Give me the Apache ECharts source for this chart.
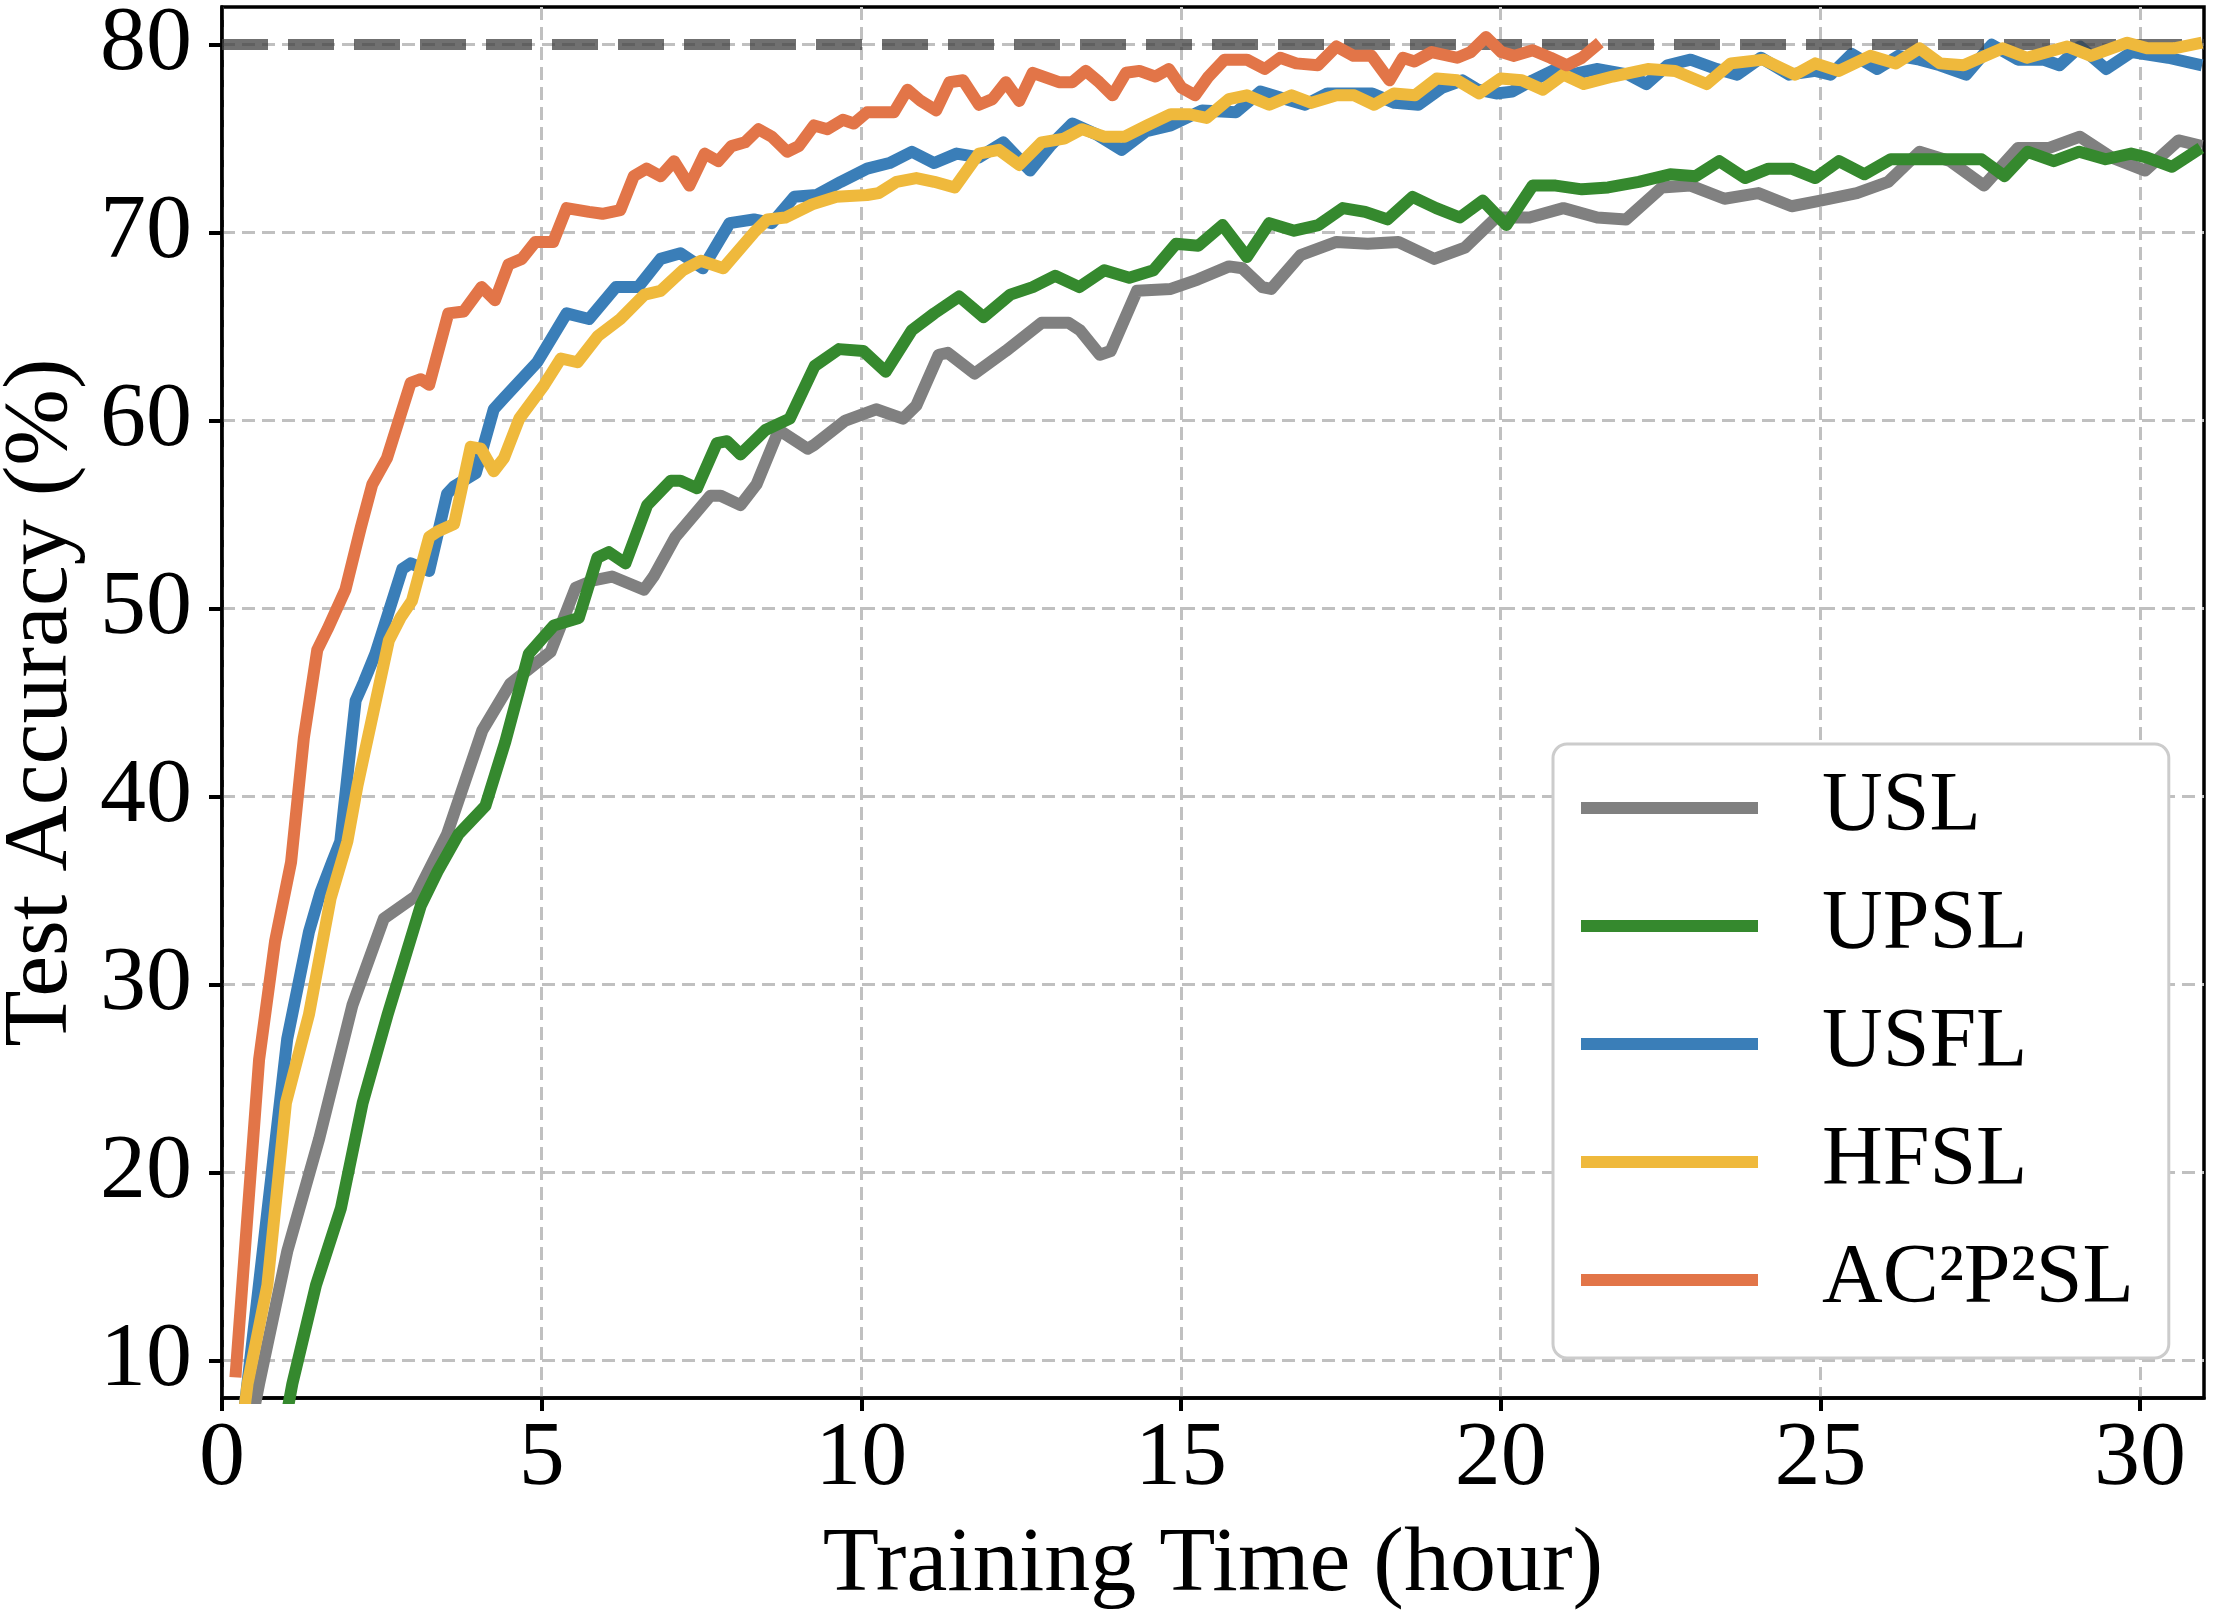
<!DOCTYPE html>
<html>
<head>
<meta charset="utf-8">
<title>Test Accuracy vs Training Time</title>
<script src="https://cdn.jsdelivr.net/npm/echarts@6/dist/echarts.min.js"></script>
<style>
  html, body { margin: 0; padding: 0; background: #fff; }
  #chart { width: 2214px; height: 1617px; }
</style>
</head>
<body>
<div id="chart"></div>
<script>
// tick labels
var timeTicks = [0, 5, 10, 15, 20, 25, 30];
var accTicks = [10, 20, 30, 40, 50, 60, 70, 80];
var refAcc = 80;

var names = ['USL', 'UPSL', 'USFL', 'HFSL', 'AC²P²SL'];
var colors = ['#808080', '#35892e', '#3a7eb8', '#efb93c', '#e27548'];

// [hour, accuracy %]
var uslData = [[0.45,6.5],[0.58,8.75],[1.02,15.8],[1.52,21.8],[2.04,28.9],[2.53,33.5],[3.03,34.7],[3.52,38.0],
  [4.07,43.5],[4.51,46.0],[5.14,47.7],[5.53,51.1],[5.81,51.5],[6.1,51.7],[6.6,51.0],[6.75,51.7],[7.09,53.8],
  [7.64,56.0],[7.8,56.0],[8.11,55.5],[8.36,56.6],[8.71,59.5],[9.16,58.5],[9.26,58.7],[9.75,60.0],[10.23,60.6],
  [10.65,60.1],[10.86,60.8],[11.21,63.5],[11.35,63.6],[11.77,62.5],[12.26,63.7],[12.82,65.2],[13.24,65.2],
  [13.42,64.8],[13.73,63.5],[13.9,63.7],[14.31,66.9],[14.84,67.0],[15.26,67.5],[15.75,68.2],[15.96,68.1],
  [16.27,67.1],[16.41,67.0],[16.87,68.8],[17.43,69.5],[17.92,69.4],[18.4,69.5],[18.96,68.6],[19.44,69.2],
  [19.93,70.8],[20.45,70.8],[20.98,71.3],[21.51,70.8],[21.96,70.7],[22.52,72.4],[22.97,72.5],[23.5,71.8],
  [24.03,72.1],[24.55,71.4],[25.0,71.7],[25.57,72.1],[26.06,72.7],[26.55,74.3],[27.03,73.8],[27.56,72.5],
  [28.09,74.5],[28.58,74.5],[29.06,75.1],[29.55,74.0],[30.08,73.3],[30.6,74.9],[30.97,74.6]];

var upslData = [[0.95,6.0],[1.10,8.75],[1.47,14.0],[1.86,18.1],[2.2,23.7],[2.59,28.4],[3.11,34.2],[3.37,36.0],
  [3.7,38.0],[4.12,39.5],[4.43,42.9],[4.8,47.6],[5.19,49.1],[5.58,49.5],[5.87,52.7],[6.05,53.0],[6.31,52.4],
  [6.65,55.5],[7.02,56.8],[7.17,56.8],[7.43,56.4],[7.74,58.8],[7.9,58.9],[8.11,58.2],[8.5,59.5],[8.88,60.1],
  [9.27,62.9],[9.65,63.8],[10.03,63.7],[10.38,62.6],[10.79,64.8],[11.14,65.7],[11.53,66.6],[11.91,65.5],
  [12.33,66.7],[12.68,67.1],[13.03,67.7],[13.41,67.1],[13.8,68.0],[14.19,67.6],[14.57,68.0],[14.92,69.4],
  [15.27,69.3],[15.65,70.4],[16.03,68.7],[16.38,70.5],[16.77,70.1],[17.15,70.4],[17.53,71.3],[17.88,71.1],
  [18.23,70.7],[18.62,71.9],[18.99,71.3],[19.36,70.8],[19.72,71.7],[20.09,70.4],[20.5,72.5],[20.86,72.5],
  [21.27,72.3],[21.68,72.4],[22.16,72.7],[22.65,73.1],[23.05,73.0],[23.42,73.8],[23.82,72.9],[24.19,73.4],
  [24.55,73.4],[24.92,72.9],[25.29,73.8],[25.69,73.1],[26.1,73.9],[26.55,73.9],[27.11,73.9],[27.52,73.9],
  [27.88,73.0],[28.24,74.3],[28.65,73.8],[29.05,74.3],[29.46,73.9],[29.86,74.2],[30.1,74.0],[30.5,73.5],
  [30.95,74.5]];

var usflData = [[0.32,6.5],[0.57,13.8],[1.02,27.1],[1.36,32.8],[1.54,34.9],[1.72,36.5],[1.85,37.6],[2.09,45.1],
  [2.22,46.1],[2.4,47.6],[2.82,52.1],[2.95,52.4],[3.24,52.0],[3.52,56.1],[3.63,56.5],[3.97,57.2],[4.25,60.6],
  [4.41,61.2],[4.93,63.1],[5.39,65.7],[5.74,65.4],[6.16,67.1],[6.51,67.1],[6.86,68.6],[7.17,68.9],[7.52,68.1],
  [7.94,70.5],[8.32,70.7],[8.6,70.5],[8.95,71.9],[9.3,72.0],[9.68,72.7],[10.09,73.4],[10.44,73.7],[10.79,74.3],
  [11.14,73.7],[11.49,74.2],[11.84,74.0],[12.22,74.8],[12.64,73.3],[12.95,74.6],[13.3,75.8],[13.69,75.2],
  [14.07,74.4],[14.46,75.4],[14.84,75.7],[15.33,76.5],[15.86,76.4],[16.24,77.5],[16.63,77.1],[16.94,76.8],
  [17.29,77.4],[17.99,77.4],[18.34,76.9],[18.71,76.8],[19.08,77.7],[19.4,78.1],[19.64,77.6],[19.93,77.4],
  [20.18,77.5],[20.5,78.1],[20.87,78.7],[21.1,78.4],[21.5,78.7],[22.0,78.4],[22.28,77.9],[22.61,78.9],
  [22.97,79.2],[23.38,78.7],[23.7,78.4],[24.07,79.3],[24.51,78.4],[24.92,78.6],[25.16,78.4],[25.49,79.5],
  [25.89,78.7],[26.22,79.4],[26.55,79.2],[26.87,78.9],[27.28,78.4],[27.68,80.0],[28.09,79.2],[28.49,79.2],
  [28.74,78.9],[29.06,79.9],[29.47,78.7],[29.87,79.6],[30.44,79.3],[30.97,78.9]];

var hfslData = [[0.3,6.0],[0.40,8.75],[0.71,14.0],[1.0,23.7],[1.36,28.4],[1.70,34.6],[1.96,37.6],[2.12,40.6],
  [2.61,48.3],[2.79,49.5],[2.97,50.4],[3.24,53.8],[3.37,54.1],[3.63,54.5],[3.89,58.6],[4.05,58.5],[4.25,57.3],
  [4.41,58.0],[4.65,60.1],[5.04,61.9],[5.3,63.3],[5.56,63.1],[5.88,64.5],[6.23,65.4],[6.61,66.7],[6.86,66.9],
  [7.21,68.0],[7.49,68.5],[7.84,68.1],[8.32,70.0],[8.53,70.7],[8.81,70.8],[9.23,71.5],[9.61,71.9],[10.09,72.0],
  [10.27,72.1],[10.55,72.7],[10.86,72.9],[11.14,72.7],[11.46,72.4],[11.84,74.2],[12.15,74.4],[12.47,73.6],
  [12.82,74.8],[13.17,75.0],[13.45,75.5],[13.8,75.1],[14.12,75.1],[14.47,75.7],[14.84,76.3],[15.12,76.3],
  [15.4,76.1],[15.75,77.1],[16.03,77.3],[16.38,76.8],[16.73,77.3],[17.04,76.9],[17.43,77.3],[17.71,77.3],
  [18.02,76.8],[18.33,77.4],[18.66,77.3],[19.0,78.2],[19.32,78.1],[19.66,77.4],[20.0,78.2],[20.33,78.1],
  [20.66,77.6],[20.98,78.4],[21.3,77.9],[21.75,78.3],[22.3,78.7],[22.73,78.6],[23.22,77.9],[23.6,79.0],
  [24.11,79.2],[24.6,78.4],[24.92,79.0],[25.29,78.6],[25.78,79.4],[26.18,79.0],[26.55,79.8],[26.87,79.0],
  [27.24,78.9],[27.85,79.8],[28.23,79.3],[28.86,79.9],[29.23,79.4],[29.8,80.1],[30.12,79.8],[30.53,79.8],
  [30.97,80.1]];

var ac2p2slData = [[0.21,9.1],[0.58,26.0],[0.83,32.3],[1.08,36.5],[1.28,43.1],[1.49,47.8],[1.65,48.9],[1.93,51.0],
  [2.17,54.3],[2.35,56.6],[2.58,58.0],[2.95,62.0],[3.11,62.2],[3.24,61.9],[3.54,65.7],[3.78,65.8],[4.06,67.1],
  [4.27,66.4],[4.48,68.3],[4.69,68.6],[4.9,69.5],[5.18,69.5],[5.39,71.3],[5.74,71.1],[5.95,71.0],[6.23,71.2],
  [6.44,73.0],[6.64,73.4],[6.86,73.0],[7.07,73.8],[7.31,72.5],[7.55,74.2],[7.76,73.8],[7.97,74.6],[8.18,74.8],
  [8.39,75.5],[8.6,75.1],[8.84,74.3],[9.02,74.6],[9.26,75.7],[9.47,75.5],[9.71,76.0],[9.88,75.8],[10.09,76.4],
  [10.51,76.4],[10.72,77.6],[10.93,77.0],[11.17,76.5],[11.38,78.0],[11.59,78.1],[11.84,76.8],[12.05,77.1],
  [12.26,78.0],[12.47,77.0],[12.68,78.5],[13.09,78.0],[13.3,78.0],[13.51,78.6],[13.72,78.0],[13.93,77.3],
  [14.14,78.5],[14.35,78.6],[14.6,78.3],[14.81,78.7],[15.01,77.7],[15.22,77.3],[15.43,78.3],[15.68,79.2],
  [16.03,79.2],[16.31,78.7],[16.55,79.3],[16.8,79.0],[17.14,78.9],[17.43,79.9],[17.7,79.4],[17.98,79.4],
  [18.26,78.1],[18.47,79.3],[18.65,79.1],[18.92,79.6],[19.32,79.3],[19.53,79.6],[19.77,80.4],[20.01,79.6],
  [20.21,79.4],[20.5,79.7],[20.78,79.3],[21.03,78.9],[21.27,79.3],[21.55,80.1]];

var seriesData = [uslData, upslData, usflData, hfslData, ac2p2slData];

var font = "'Liberation Serif', 'Times New Roman', serif";

var chart = echarts.init(document.getElementById('chart'));

var series = names.map(function (name, i) {
  return {
    name: name,
    type: 'line',
    data: seriesData[i],
    showSymbol: false,
    symbol: 'none',
    clip: true,
    lineStyle: { color: colors[i], width: 12, join: 'round' },
    itemStyle: { color: colors[i] },
    z: 2 + i
  };
});

// dashed reference line at 80%
series[4].markLine = {
  silent: true,
  symbol: 'none',
  label: { show: false },
  lineStyle: { color: 'rgba(64,64,64,0.75)', width: 11, type: [46, 20] },
  data: [{ yAxis: refAcc }]
};

chart.setOption({
  animation: false,
  backgroundColor: '#fff',
  grid: {
    left: 222, right: 10, top: 7, bottom: 219,
    outerBoundsMode: 'none',
    show: true, borderColor: '#000', borderWidth: 3.5, backgroundColor: 'transparent'
  },
  legend: {
    orient: 'vertical',
    left: 1553, top: 744,
    data: names,
    icon: 'rect',
    itemWidth: 177, itemHeight: 12,
    itemGap: 34,
    padding: [22, 35, 36, 28],
    backgroundColor: '#fff',
    borderColor: '#cccccc', borderWidth: 3, borderRadius: 14,
    textStyle: { fontFamily: font, fontSize: 84, color: '#000', lineHeight: 84, padding: [0, 0, 0, 59] }
  },
  xAxis: {
    type: 'value', min: 0, max: 31,
    name: 'Training Time (hour)', nameLocation: 'middle', nameGap: 122,
    nameTextStyle: { fontFamily: font, fontSize: 92, color: '#000' },
    axisLine: { lineStyle: { color: '#000', width: 3.5 } },
    axisTick: { show: true, inside: false, length: 13, lineStyle: { color: '#000', width: 4 }, customValues: timeTicks },
    axisLabel: { fontFamily: font, fontSize: 92, color: '#000', margin: 16, customValues: timeTicks },
    splitLine: { show: true, lineStyle: { color: '#c0c0c0', width: 3, type: [13, 7] } }
  },
  yAxis: {
    type: 'value', min: 8, max: 82,
    name: 'Test Accuracy (%)', nameLocation: 'middle', nameGap: 134,
    nameTextStyle: { fontFamily: font, fontSize: 92, color: '#000' },
    axisLine: { show: true, lineStyle: { color: '#000', width: 3.5 } },
    axisTick: { show: true, inside: false, length: 13, lineStyle: { color: '#000', width: 4 }, customValues: accTicks },
    axisLabel: { fontFamily: font, fontSize: 92, color: '#000', margin: 30, customValues: accTicks },
    splitLine: { show: true, lineStyle: { color: '#c0c0c0', width: 3, type: [13, 7] } }
  },
  series: series
});
</script>
</body>
</html>
